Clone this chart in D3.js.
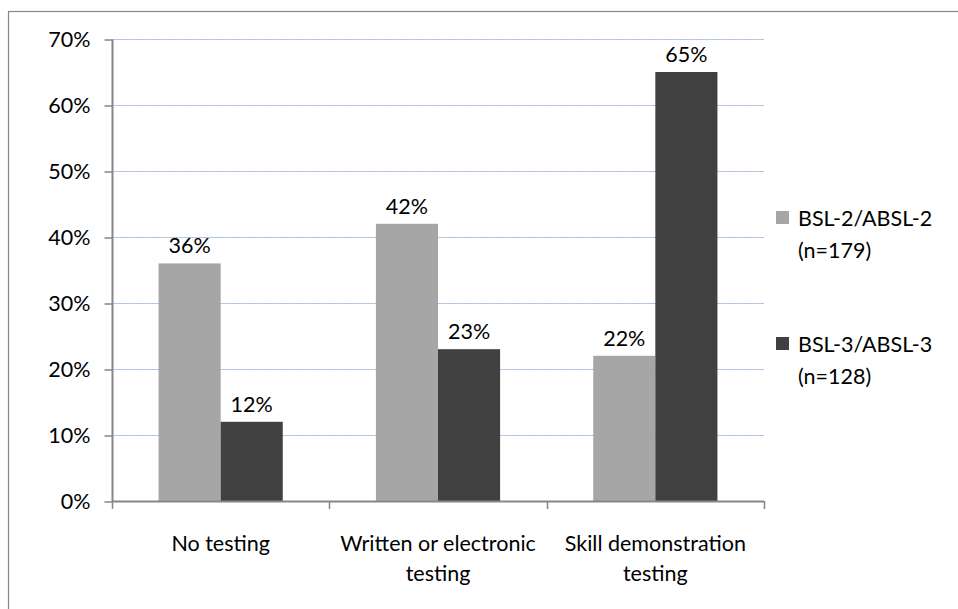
<!DOCTYPE html>
<html><head><meta charset="utf-8">
<script src="https://cdn.jsdelivr.net/npm/d3@7"></script>
<style>body{margin:0;background:#fff}svg{display:block}text{font-family:Lato,"Noto Sans",sans-serif;fill:#000}</style>
</head><body>
<script>
const categories = [["No testing"], ["Written or electronic", "testing"], ["Skill demonstration", "testing"]];
const series = ["BSL-2/ABSL-2", "BSL-3/ABSL-3"];
const seriesN = ["(n=179)", "(n=128)"];
const bsl2 = [36, 42, 22];
const bsl3 = [12, 23, 65];
const yTicks = [0, 10, 20, 30, 40, 50, 60, 70];
const colors = ["#a6a6a6", "#404040"];

(function () {
const W = 958, H = 609, FS = 21.5;
const svg = d3.select("body").append("svg").attr("width", W).attr("height", H);
svg.append("rect").attr("x", 8.5).attr("y", 11.5).attr("width", 1000).attr("height", 700)
  .attr("fill", "none").attr("stroke", "#868686").attr("stroke-width", 1.2);

const pL = 112, pR = 764, pT = 39, pB = 501;
const x = d3.scaleBand().domain(d3.range(categories.length)).range([pL, pR]);
const xs = d3.scaleBand().domain([0, 1]).range([0, x.bandwidth()]).paddingOuter(0.75).paddingInner(0);
const y = d3.scaleLinear().domain([0, 70]).range([pB, pT]);

const g = svg.append("g");
yTicks.filter(t => t > 0).forEach(t => {
  const yy = Math.round(y(t)) + 0.5;
  g.append("line").attr("x1", pL).attr("x2", pR).attr("y1", yy).attr("y2", yy)
    .attr("stroke", "#b3c8e3").attr("stroke-width", 1);
  g.append("line").attr("x1", pL + 15).attr("x2", pR).attr("y1", yy).attr("y2", yy)
    .attr("stroke", "#9db4d4").attr("stroke-width", 1).attr("stroke-dasharray", "1,14.5");
});

const data = categories.map((c, i) => [bsl2[i], bsl3[i]]);
const cg = svg.append("g").selectAll("g").data(data).join("g").attr("transform", (d, i) => `translate(${x(i)},0)`);
cg.selectAll("rect").data(d => d).join("rect")
  .attr("x", (d, j) => xs(j)).attr("width", xs.bandwidth())
  .attr("y", d => y(d)).attr("height", d => y(0) - y(d))
  .attr("fill", (d, j) => colors[j]);
cg.selectAll("text").data(d => d).join("text")
  .attr("x", (d, j) => xs(j) + xs.bandwidth() / 2).attr("y", d => y(d) - 10)
  .attr("text-anchor", "middle").attr("font-size", FS).text(d => d + "%");

const yAxis = d3.axisLeft(y).tickValues(yTicks).tickFormat(d => d + "%").tickSize(8).tickPadding(14);
const ya = svg.append("g").attr("transform", `translate(${pL + 0.5},0.5)`).call(yAxis);
ya.select(".domain").attr("stroke", "#868686").attr("stroke-width", 2).attr("d", `M0,${pT}V${pB}`);
ya.selectAll(".tick line").attr("stroke", "#868686").attr("stroke-width", 1.5);
ya.selectAll(".tick text").attr("font-size", FS).attr("font-family", "Lato,'Noto Sans',sans-serif").attr("fill", "#000");

const xa = svg.append("g");
xa.append("line").attr("x1", pL).attr("x2", pR).attr("y1", pB + 0.5).attr("y2", pB + 0.5)
  .attr("stroke", "#868686").attr("stroke-width", 2);
const edges = d3.range(categories.length).map(i => x(i)).concat([pR]);
edges.forEach(e => xa.append("line").attr("x1", Math.round(e) + 0.5).attr("x2", Math.round(e) + 0.5)
  .attr("y1", pB).attr("y2", pB + 8).attr("stroke", "#868686").attr("stroke-width", 1.5));
categories.forEach((c, i) => {
  c.forEach((line, k) => {
    xa.append("text").attr("x", x(i) + x.bandwidth() / 2).attr("y", 551 + k * 30)
      .attr("text-anchor", "middle").attr("font-size", FS).text(line);
  });
});

const legY = [211, 337];
series.forEach((s, i) => {
  svg.append("rect").attr("x", 776).attr("y", legY[i]).attr("width", 13).attr("height", 13).attr("fill", colors[i]);
  svg.append("text").attr("x", 798).attr("y", legY[i] + 15).attr("font-size", FS).text(s);
  svg.append("text").attr("x", 798).attr("y", legY[i] + 47).attr("font-size", FS).text(seriesN[i]);
});
})();
</script>
</body></html>
